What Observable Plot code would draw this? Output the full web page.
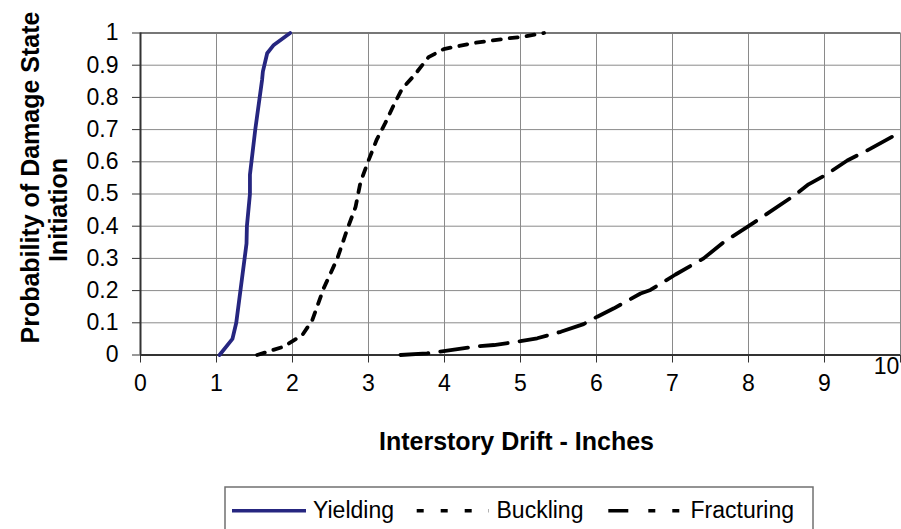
<!DOCTYPE html>
<html>
<head>
<meta charset="utf-8">
<script src="https://cdn.jsdelivr.net/npm/d3@7"></script>
<script src="https://cdn.jsdelivr.net/npm/@observablehq/plot@0.6"></script>
<style>
  html, body { margin: 0; padding: 0; background: #fff; }
  #chart { width: 901px; height: 529px; overflow: hidden; font-family: "Liberation Sans", Arial, sans-serif; }
  #chart svg { display: block; }
</style>
</head>
<body>
<div id="chart"></div>
<script>
// ---- data ----
const yieldingX = [1.04, 1.21, 1.26, 1.315, 1.395, 1.40, 1.44, 1.44, 1.51, 1.60, 1.61, 1.667, 1.754, 1.97];
const yieldingY = [0, 0.05, 0.1, 0.2, 0.346, 0.4, 0.5, 0.56, 0.7, 0.855, 0.88, 0.937, 0.963, 1.0];

const bucklingX = [1.535, 1.886, 2.13, 2.26, 2.41, 2.59, 2.72, 2.83, 2.895, 3.0, 3.11, 3.22, 3.33, 3.44, 3.6, 3.79, 3.99, 4.39, 4.82, 5.0, 5.31];
const bucklingY = [0, 0.026, 0.062, 0.108, 0.207, 0.30, 0.39, 0.46, 0.537, 0.604, 0.67, 0.72, 0.775, 0.826, 0.868, 0.925, 0.95, 0.969, 0.983, 0.987, 1.0];

const fracturingX = [3.42, 3.77, 3.99, 4.39, 4.65, 5.0, 5.22, 5.53, 5.83, 6.01, 6.23, 6.58, 6.71, 7.04, 7.41, 7.67, 8.0, 8.6, 8.79, 9.0, 9.3, 9.6, 10.0];
const fracturingY = [0, 0.005, 0.012, 0.026, 0.031, 0.043, 0.052, 0.072, 0.096, 0.119, 0.145, 0.191, 0.202, 0.25, 0.30, 0.35, 0.40, 0.495, 0.53, 0.557, 0.604, 0.64, 0.692];

const xTicks = [0, 1, 2, 3, 4, 5, 6, 7, 8, 9, 10];
const yTicks = [0, 0.1, 0.2, 0.3, 0.4, 0.5, 0.6, 0.7, 0.8, 0.9, 1];
const yTickLabels = ["0", "0.1", "0.2", "0.3", "0.4", "0.5", "0.6", "0.7", "0.8", "0.9", "1"];

const seriesNames = ["Yielding", "Buckling", "Fracturing"];
const xTitle = "Interstory Drift - Inches";
const yTitle1 = "Probability of Damage State";
const yTitle2 = "Initiation";

// ---- build rows ----
const toRows = (xs, ys) => xs.map((x, i) => ({x, y: ys[i]}));
const yielding = toRows(yieldingX, yieldingY);
const buckling = toRows(bucklingX, bucklingY);
const fracturing = toRows(fracturingX, fracturingY);

const NAVY = "#262680";
const FONT = "'Liberation Sans', Arial, sans-serif";

const plot = Plot.plot({
  width: 901,
  height: 480,
  marginLeft: 140,
  marginRight: 1,
  marginTop: 32.5,
  marginBottom: 125.5,
  style: {fontFamily: FONT, fontSize: "23px", color: "#000", background: "#fff", overflow: "visible"},
  x: {domain: [0, 10]},
  y: {domain: [0, 1]},
  marks: [
    Plot.gridX(xTicks, {stroke: "#8a8a8a", strokeOpacity: 1, strokeWidth: 1}),
    Plot.gridY(yTicks, {stroke: "#8a8a8a", strokeOpacity: 1, strokeWidth: 1}),
    Plot.ruleY([1], {stroke: "#777", strokeWidth: 2}),
    Plot.ruleX([0], {stroke: "#333", strokeWidth: 2}),
    Plot.ruleY([0], {stroke: "#333", strokeWidth: 2}),
    Plot.axisY({ticks: yTicks, tickSize: 8, tickPadding: 14, label: null, stroke: "#333",
      tickFormat: d => yTickLabels[yTicks.indexOf(d)], fontSize: 23}),
    Plot.axisX({ticks: xTicks, tickSize: 8, tickPadding: 12, label: null, stroke: "#333",
      tickFormat: d => d === 10 ? "" : String(d), fontSize: 23}),
    Plot.text([10], {x: d => d, frameAnchor: "bottom", lineAnchor: "middle", text: d => String(d), dx: -14, dy: 12, fontSize: 23}),
    Plot.text([xTitle], {frameAnchor: "bottom", lineAnchor: "middle", textAnchor: "middle", dy: 87, dx: -4, fontWeight: "bold", fontSize: 25}),
    Plot.text([yTitle1], {frameAnchor: "left", textAnchor: "middle", lineAnchor: "middle", dx: -110, dy: -16.5, rotate: -90, fontWeight: "bold", fontSize: 25}),
    Plot.text([yTitle2], {frameAnchor: "left", textAnchor: "middle", lineAnchor: "middle", dx: -82, dy: 16, rotate: -90, fontWeight: "bold", fontSize: 25}),
    Plot.line(fracturing, {x: "x", y: "y", stroke: "#000", strokeWidth: 3.8, strokeDasharray: "28,12"}),
    Plot.line(buckling, {x: "x", y: "y", stroke: "#000", strokeWidth: 3.8, strokeDasharray: "8,9"}),
    Plot.line(yielding, {x: "x", y: "y", stroke: NAVY, strokeWidth: 3.8})
  ]
});

const chart = document.getElementById("chart");
chart.appendChild(plot);

// ---- legend below the plot ----
const leg = d3.select(chart).append("svg")
  .attr("width", 901).attr("height", 49)
  .style("font-family", FONT).style("font-size", "23px");

leg.append("rect").attr("x", 225).attr("y", 7).attr("width", 588).attr("height", 60)
  .attr("fill", "#fff").attr("stroke", "#707070").attr("stroke-width", 1.5);

const items = [
  {name: seriesNames[0], x1: 232, x2: 306, tx: 313, stroke: NAVY, dash: null},
  {name: seriesNames[1], x1: 416.7, x2: 489, tx: 496.5, stroke: "#000", dash: "7,17"},
  {name: seriesNames[2], x1: 608.3, x2: 687, tx: 690.5, stroke: "#000", dash: "20,20,7,17,7,8,1,20"}
];
for (const it of items) {
  const ln = leg.append("line").attr("x1", it.x1).attr("x2", it.x2).attr("y1", 30.7).attr("y2", 30.7)
    .attr("stroke", it.stroke).attr("stroke-width", 3.5);
  if (it.dash) ln.attr("stroke-dasharray", it.dash);
  leg.append("text").attr("x", it.tx).attr("y", 37.5).attr("fill", "#000").text(it.name);
}
</script>
</body>
</html>
